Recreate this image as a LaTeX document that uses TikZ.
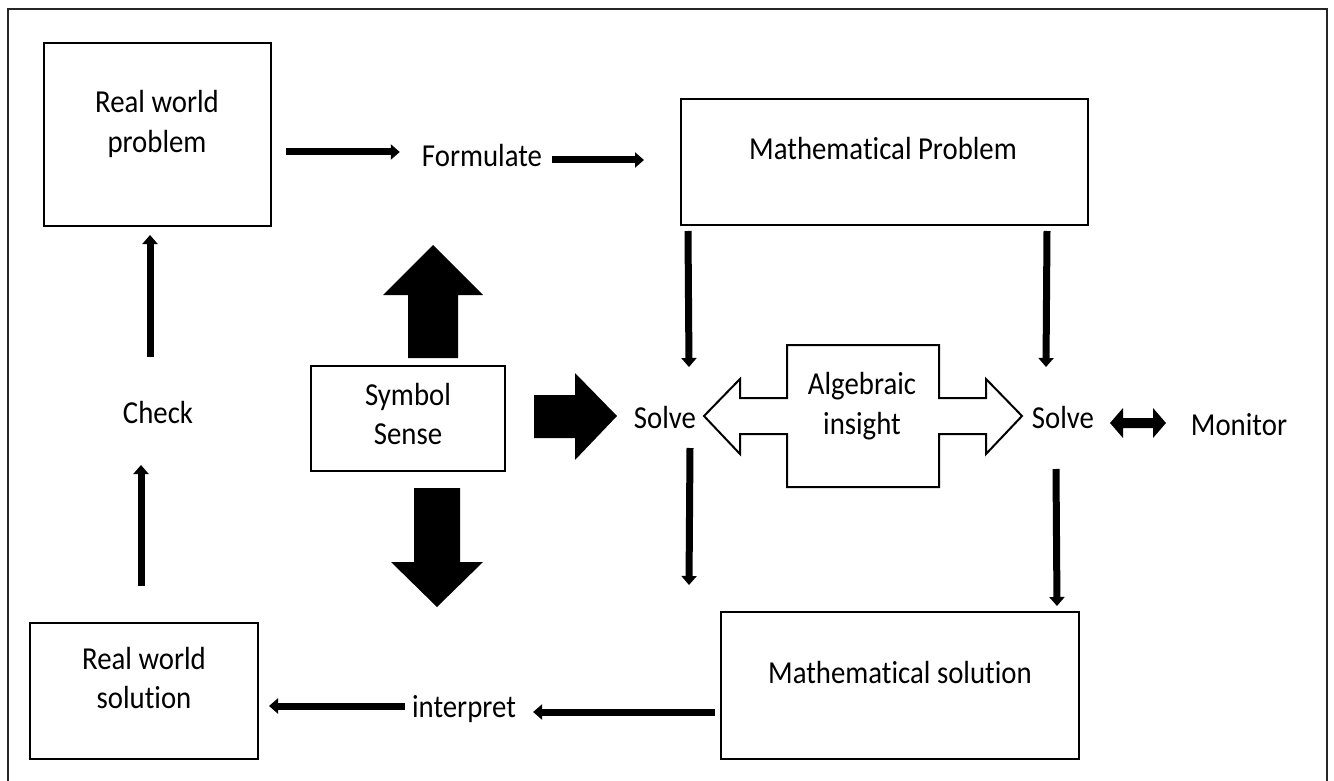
\documentclass[tikz,border=0pt]{standalone}
\usepackage{fontspec}
\setmainfont{Carlito}[Ligatures={NoCommon},FakeStretch=0.9]
\usetikzlibrary{arrows.meta,calc}
\begin{document}
\begin{tikzpicture}[x=1pt,y=-1pt,
  box/.style={draw=black,line width=2pt,inner sep=0pt},
  txt/.style={inner sep=0pt,font=\fontsize{32}{39.5}\selectfont,align=center},
  arr/.style={line width=7pt,-{Triangle[width=15pt,length=9pt]}},
  blockarrow/.style={fill=black,draw=none}]
\useasboundingbox (0,0) rectangle (1334,781);
% outer frame (no bottom edge)
\draw[line width=1.5pt,black!85] (8,781) -- (8,9) -- (1327,9) -- (1327,781);

% boxes
\node[box,minimum width=227pt,minimum height=183pt] (rwp) at (157.5,134.5) {};
\node[box,minimum width=407pt,minimum height=126pt] (mp) at (884.5,162) {};
\node[box,minimum width=194pt,minimum height=105pt] (ss) at (408,418.5) {};
\node[box,minimum width=358pt,minimum height=147pt] (ms) at (900,685.5) {};
\node[box,minimum width=228pt,minimum height=136pt] (rws) at (144,691) {};

% box texts
\node[txt] (rwpt) at (157,124) {Real world\\problem};
\node[txt,anchor=base] (mpt) at (883,160) {Mathematical Problem};
\node[txt] (sst) at (408,414) {Symbol\\Sense};
\node[txt,anchor=base] (mst) at (900,683) {Mathematical solution};
\node[txt] (rwst) at (144,678) {Real world\\solution};

% algebraic insight double block arrow
\draw[line width=2pt,fill=white] (704,416) -- (740,379) -- (740,398) -- (787,398) -- (787,345)
  -- (939,345) -- (939,398) -- (986,398) -- (986,379) -- (1022,416) -- (986,454) -- (986,434)
  -- (939,434) -- (939,487) -- (787,487) -- (787,434) -- (740,434) -- (740,454) -- cycle;
\node[txt] (ai) at (862,406) {Algebraic\\insight};

% free labels
\node[txt,anchor=base] (form) at (482,167) {Formulate};
\node[txt,anchor=base] (check) at (158,423) {Check};
\node[txt,anchor=base] (solveL) at (665,428) {Solve};
\node[txt,anchor=base] (solveR) at (1063,428) {Solve};
\node[txt,anchor=base] (mon) at (1239,435) {Monitor};
\node[txt,anchor=base] (interp) at (464,717) {interpret};

% thin arrows
\draw[arr] ([shift={(14,17.5)}]rwp.east) -- ([shift={(-22,-15)}]form.base west);
\draw[arr] ([shift={(10,-7)}]form.base east) -- ([shift={(-36,-2)}]mp.west);
\draw[arr] ([shift={(8,5)}]mp.south west) -- ([shift={(24,-61)}]solveL.base);
\draw[arr] ([shift={(-42,5)}]mp.south east) -- ([shift={(-17,-61)}]solveR.base);
\draw[arr] ([shift={(25,20)}]solveL.base) -- ([shift={(-31,-26)}]ms.north west);
\draw[arr] ([shift={(-7,41)}]solveR.base) -- ([shift={(-23,-5)}]ms.north east);
\draw[arr] ([shift={(-5,26.5)}]ms.west) -- ([shift={(17,-5)}]interp.base east);
\draw[arr] ([shift={(-7,-11)}]interp.base west) -- ([shift={(10,15)}]rws.east);
\draw[arr] ([shift={(-3,-36)}]rws.north) -- ([shift={(-17,42)}]check.base);
\draw[arr] ([shift={(-8,-66)}]check.base) -- ([shift={(-7.5,8)}]rwp.south);

% symbol sense block arrows
\fill[blockarrow] (433,245) -- (483,295) -- (458,295) -- (458,358) -- (408,358) -- (408,295) -- (383,295) -- cycle;
\fill[blockarrow] (617,416) -- (575,460) -- (575,438) -- (534,438) -- (534,395) -- (575,395) -- (575,373) -- cycle;
\fill[blockarrow] (437,607) -- (483,562) -- (460,562) -- (460,488) -- (414,488) -- (414,562) -- (391,562) -- cycle;
% monitor double arrow
\fill[blockarrow] (1110,423) -- (1123,408) -- (1123,418) -- (1153,418) -- (1153,408) -- (1166,423)
  -- (1153,438) -- (1153,428) -- (1123,428) -- (1123,438) -- cycle;
\end{tikzpicture}
\end{document}
